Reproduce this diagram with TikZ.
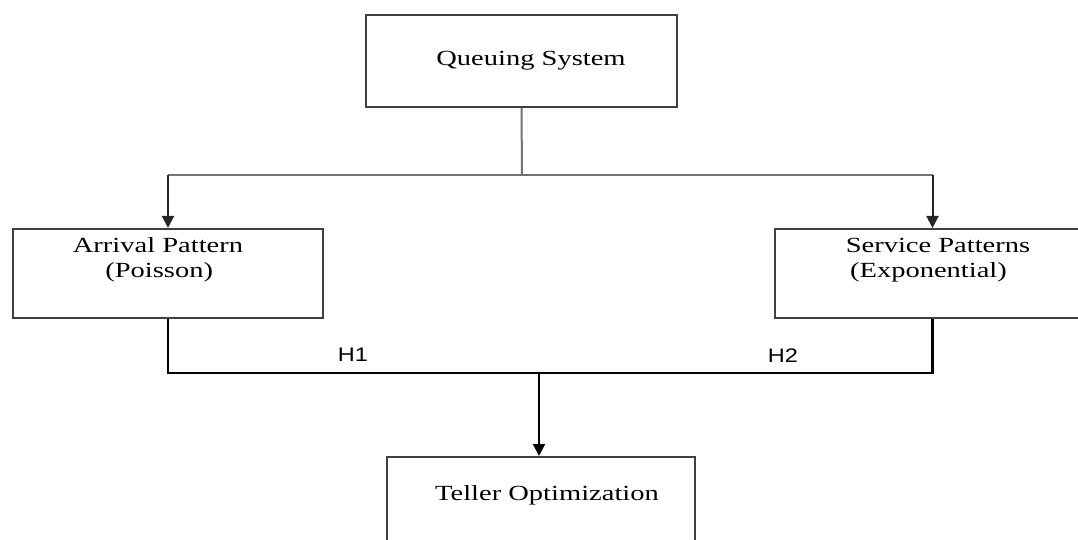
\documentclass[tikz,border=0pt]{standalone}
\usepackage{fontspec}
\setmainfont[FakeStretch=1.32]{Liberation Serif}
\newfontfamily\hfont[FakeStretch=1.2]{Liberation Sans}
\usetikzlibrary{arrows.meta}

\tikzset{
  box/.style={draw=black!75, line width=1pt, inner sep=0pt},
  boxtext/.style={font=\fontsize{10.8}{12.5}\selectfont, align=left, inner sep=0pt},
  hlabel/.style={font=\hfont\fontsize{9.8}{11}\selectfont, inner sep=0pt},
  splitline/.style={draw=black!55, line width=1pt},
  joinline/.style={draw=black, line width=1.2pt},
  arrowline/.style={draw=black!85, line width=1pt, -{Triangle[length=6pt,width=6pt]}}
}

\begin{document}
\begin{tikzpicture}[x=0.5pt, y=-0.5pt]

		\useasboundingbox (0,0) rectangle (1078,540);

		\clip (0,0) rectangle (1078,540);

		% define boxes

		\node[box, minimum width=155.5pt, minimum height=46pt] (qs)  at (521.5, 61) {};

		\node[box, minimum width=155pt, minimum height=44.5pt] (arr) at (168, 273.5) {};

		\node[box, minimum width=157.5pt, minimum height=44.5pt] (srv) at (932.5, 273.5) {};

		\node[box, minimum width=154pt, minimum height=50pt] (tel) at (541, 507) {};

		% texts

		\node[boxtext] (qstext)  at (531, 61) {Queuing System};

		\node[boxtext] (arrtext) at (158, 260) {Arrival Pattern\\\hspace*{1.5em}(Poisson)};

		\node[boxtext] (srvtext) at (938, 260) {Service Patterns\\\hspace*{0.2em}(Exponential)};

		\node[boxtext] (teltext) at (547, 495) {Teller Optimization};

		\node[hlabel] (h1) at (353, 355) {H1};

		\node[hlabel] (h2) at (783, 356) {H2};

		% define point

		\coordinate (split) at (522, 175);

		\coordinate (merge) at (539, 373);

		% connectors

		\draw[splitline] (qs.south) -- (split);

		\draw[splitline] (arr.north |- split) -- (srv.north |- split);

		\draw[arrowline] (arr.north |- split) -- (arr.north);

		\draw[arrowline] (srv.north |- split) -- (srv.north);

		\draw[joinline] (arr.south) |- (merge) -| (srv.south);

		\draw[arrowline, draw=black] (merge) -- (merge |- tel.north);

	\end{tikzpicture}
\end{document}
